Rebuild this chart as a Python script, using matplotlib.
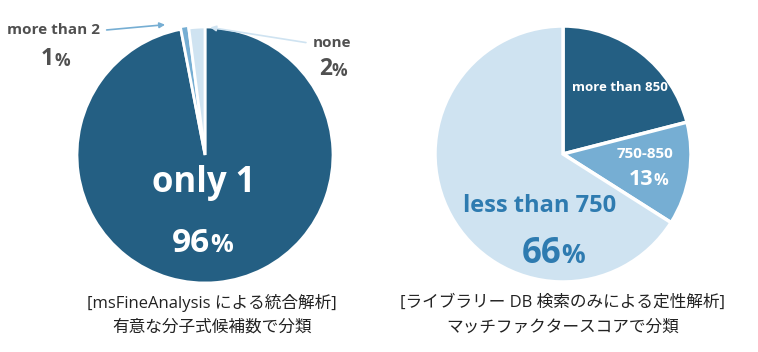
import matplotlib.pyplot as plt

plt.rcParams['font.family'] = ['Open Sans', 'Noto Sans CJK JP', 'DejaVu Sans']

# left pie: number of significant formula candidates
left_labels = ['only 1', 'more than 2', 'none']
left_values = [96, 1, 2]
left_pct = ['96', '1', '2']

# right pie: match factor score
right_labels = ['more than 850', '750-850', 'less than 750']
right_values = [21, 13, 66]
right_pct = ['21', '13', '66']

left_title = ['[msFineAnalysis による統合解析]', '有意な分子式候補数で分類']
right_title = ['[ライブラリー DB 検索のみによる定性解析]', 'マッチファクタースコアで分類']

DARK = '#245f83'
MID = '#76aed3'
LIGHT = '#cfe3f1'
GRAY = '#505050'
BLUE = '#2e7bb0'

W, H = 758, 352
fig = plt.figure(figsize=(W / 100, H / 100), dpi=100)


def pie_axes(cx, cy, r):
    ax = fig.add_axes([(cx - r) / W, (H - cy - r) / H, 2 * r / W, 2 * r / H])
    ax.set_xlim(-1, 1)
    ax.set_ylim(-1, 1)
    ax.axis('off')
    return ax


def pct_text(ax, x, y, num, size, color):
    # number centred on x with its baseline on y, smaller percent sign after it
    t = ax.text(x, y, num, ha='center', va='baseline', fontsize=size,
                fontweight='bold', color=color)
    ax.annotate('%', xy=(1, 0), xycoords=t, xytext=(0, 0.24 * size),
                textcoords='offset points', ha='left', va='baseline',
                fontsize=size * 0.76, fontweight='bold', color=color)


ax1 = pie_axes(205, 155, 128)
ax1.pie(left_values, colors=[DARK, MID, LIGHT], startangle=90, counterclock=False,
        radius=1, explode=[0, 0.02, 0],
        wedgeprops=dict(edgecolor='white', linewidth=2))
ax1.set_xlim(-1, 1)
ax1.set_ylim(-1, 1)
ax1.text(-0.01, -0.22, left_labels[0], ha='center', va='center', fontsize=25,
         fontweight='bold', color='white')
pct_text(ax1, -0.11, -0.76, left_pct[0], 24, 'white')

ax1.text(-1.18, 0.98, left_labels[1], ha='center', va='center', fontsize=11,
         fontweight='bold', color=GRAY)
pct_text(ax1, -1.23, 0.70, left_pct[1], 16.5, GRAY)
ax1.text(0.99, 0.875, left_labels[2], ha='center', va='center', fontsize=11,
         fontweight='bold', color=GRAY)
pct_text(ax1, 0.94, 0.625, left_pct[2], 16.5, GRAY)

ax1.annotate('', xy=(-0.29, 1.02), xytext=(-0.79, 0.975),
             arrowprops=dict(arrowstyle='-|>', color=MID, lw=1.2, mutation_scale=8),
             annotation_clip=False)
ax1.annotate('', xy=(0.02, 1.0), xytext=(0.81, 0.875),
             arrowprops=dict(arrowstyle='-|>', color=LIGHT, lw=1.2, mutation_scale=8),
             annotation_clip=False)

ax2 = pie_axes(563, 154, 128)
ax2.pie(right_values, colors=[DARK, MID, LIGHT], startangle=90, counterclock=False,
        radius=1, wedgeprops=dict(edgecolor='white', linewidth=2.5))
ax2.set_xlim(-1, 1)
ax2.set_ylim(-1, 1)
ax2.text(0.445, 0.52, right_labels[0], ha='center', va='center', fontsize=9.5,
         fontweight='bold', color='white')
ax2.text(0.64, 0.0, right_labels[1], ha='center', va='center', fontsize=11,
         fontweight='bold', color='white')
pct_text(ax2, 0.61, -0.24, right_pct[1], 15.5, 'white')
ax2.text(-0.18, -0.41, right_labels[2], ha='center', va='center', fontsize=17,
         fontweight='bold', color=BLUE)
pct_text(ax2, -0.17, -0.85, right_pct[2], 25, BLUE)

for cx, lines in [(212, left_title), (563, right_title)]:
    fig.text(cx / W, 1 - 303 / H, lines[0], ha='center', va='center', fontsize=12,
             color='#222222')
    fig.text(cx / W, 1 - 328 / H, lines[1], ha='center', va='center', fontsize=12,
             color='#222222')

fig.savefig('out.png', dpi=100)
